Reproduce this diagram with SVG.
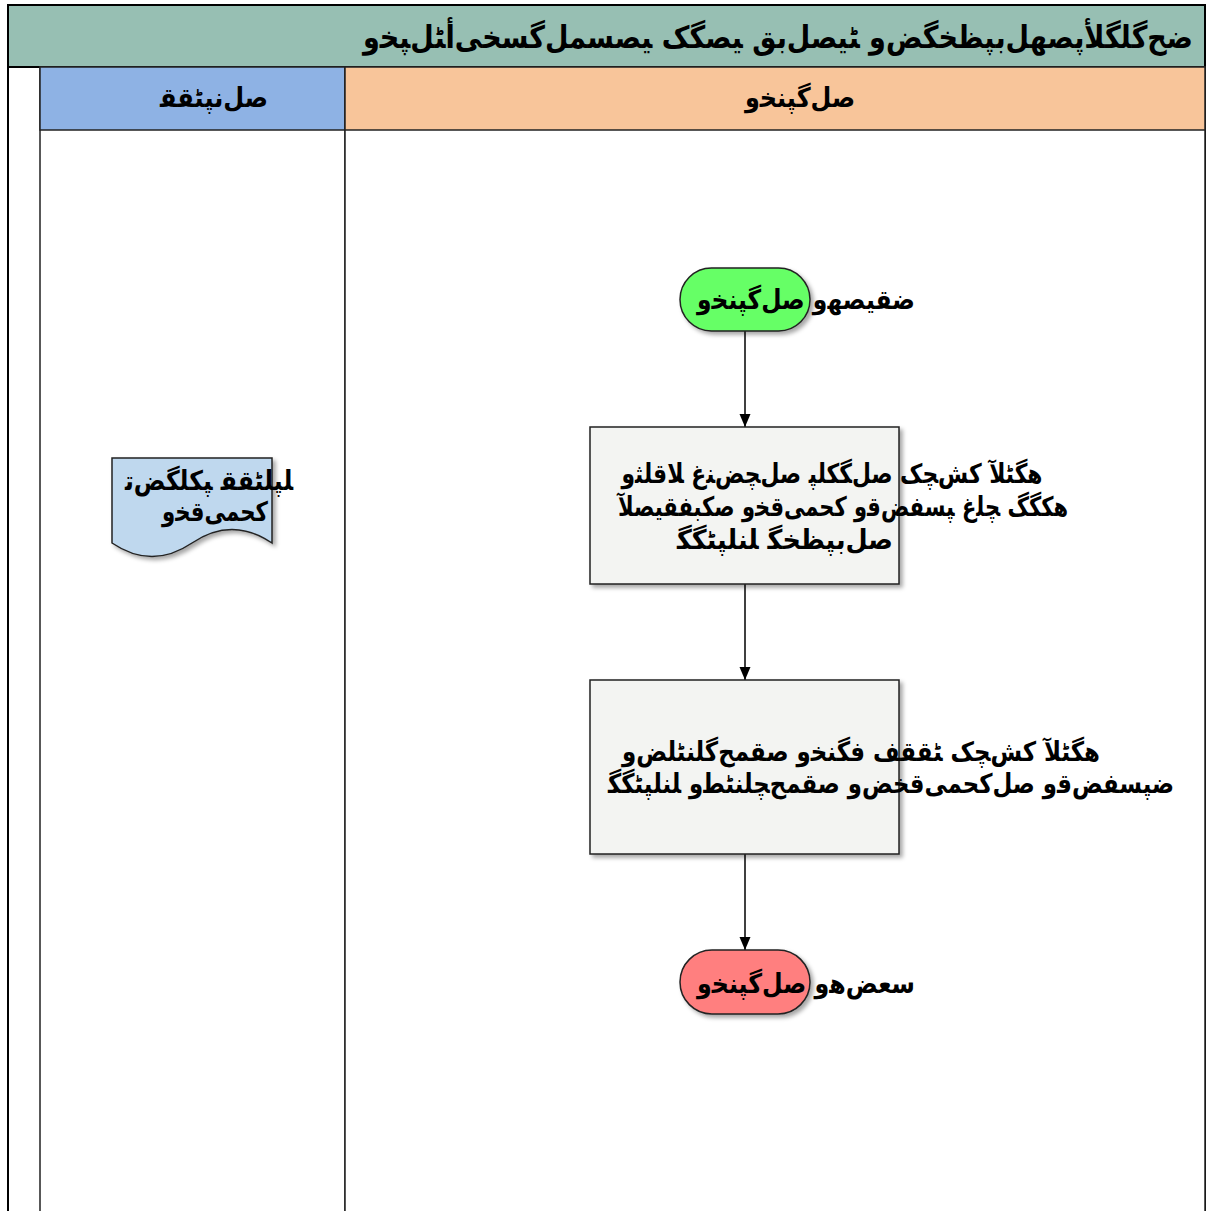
<svg xmlns="http://www.w3.org/2000/svg" width="1212" height="1211" viewBox="0 0 1212 1211">
  <defs>
    <style>
      .lbl { font-family: "DejaVu Sans", "Noto Sans", sans-serif; font-size: 27px; font-weight: bold; fill: #000; text-anchor: middle; }
      .ttl { font-family: "DejaVu Sans", "Noto Sans", sans-serif; font-size: 31px; font-weight: bold; fill: #000; text-anchor: middle; }
      .pool { stroke: #000; stroke-width: 2; }
      .lane { stroke: #222; stroke-width: 1.5; }
      .node { stroke: #222; stroke-width: 1.5; filter: url(#shadow); }
      .edge { fill: none; stroke: #000; stroke-width: 1.5; marker-end: url(#arrow); }
    </style>
    <filter id="shadow" x="-10%" y="-10%" width="130%" height="140%">
      <feDropShadow dx="3" dy="3" stdDeviation="2" flood-color="#000" flood-opacity="0.35"/>
    </filter>
    <marker id="arrow" viewBox="0 0 14 12" refX="13" refY="6" markerWidth="14" markerHeight="12" markerUnits="userSpaceOnUse" orient="auto">
      <path d="M0,0.5 L13,6 L0,11.5 Z" fill="#000"/>
    </marker>
  </defs>

  <!-- pool frame and title bar -->
  <g id="pool">
    <rect x="8" y="5" width="1197" height="1210" fill="#fff" class="pool"/>
    <rect x="8" y="5" width="1197" height="62" fill="#97BFB3" class="pool"/>
    <text class="ttl" x="778" y="48" textLength="830" lengthAdjust="spacingAndGlyphs">ﺿﺢﮔﻠﮕﻸﭘﺼﻬﻞﺑﭙﻈﺨﮕﺾﻭ ﭩﻴﺼﻞﺑﻖ ﻴﺼﮕﮏ ﻴﺼﺴﻤﻞﮔﺴﺨﻰﺃﭩﻞﭙﺨﻭ</text>
  </g>

  <!-- lanes -->
  <g id="lane-1">
    <rect x="40" y="67" width="305" height="1150" fill="#fff" class="lane"/>
    <rect x="40" y="67" width="305" height="63" fill="#8EB2E4" class="lane"/>
    <text class="lbl" x="214" y="107" textLength="108" lengthAdjust="spacingAndGlyphs">ﺻﻞﻧﭙﭩﻘﻘ</text>
  </g>
  <g id="lane-2">
    <rect x="345" y="67" width="860" height="1150" fill="#fff" class="lane"/>
    <rect x="345" y="67" width="860" height="63" fill="#F8C59A" class="lane"/>
    <text class="lbl" x="800" y="107" textLength="110" lengthAdjust="spacingAndGlyphs">ﺻﻞﮔﭙﻨﺨﻭ</text>
  </g>

  <!-- connectors -->
  <g id="connectors">
    <path class="edge" d="M745,331 V427"/>
    <path class="edge" d="M745,584 V680"/>
    <path class="edge" d="M745,854 V950"/>
  </g>

  <!-- document in lane 1 -->
  <g id="doc">
    <path class="node" fill="#BFD8EE" d="M112,458 H272 V543 Q232,516 192,543 Q152,570 112,543 Z"/>
    <text class="lbl" x="209" y="490" textLength="168" lengthAdjust="spacingAndGlyphs">ﻠﭙﻠﭩﻘﻘ ﭙﮑﻠﮕﺾﺗ</text>
    <text class="lbl" x="215" y="521" textLength="106" lengthAdjust="spacingAndGlyphs">ﮐﺤﻤﻰﻗﺨﻭ</text>
  </g>

  <!-- start terminator -->
  <g id="start">
    <rect class="node" x="680" y="268" width="130" height="63" rx="31.5" fill="#66FF66"/>
    <text class="lbl" x="806" y="309" textLength="218" lengthAdjust="spacingAndGlyphs">ﺿﻘﻴﺼﻬﻭ ﺻﻞﮔﭙﻨﺨﻭ</text>
  </g>

  <!-- first process step -->
  <g id="step-1">
    <rect class="node" x="590" y="427" width="309" height="157" fill="#F3F4F2"/>
    <text class="lbl" x="832" y="483" textLength="421" lengthAdjust="spacingAndGlyphs">ﻫﮕﭩﻶ ﮐﺶﭽﮏ ﺻﻞﮕﮑﻠﭙ ﺻﻞﭽﺾﻨﻍ ﻼﻗﻠﺜﻭ</text>
    <text class="lbl" x="843" y="516" textLength="450" lengthAdjust="spacingAndGlyphs">ﻫﮑﮕﮓ ﭽﻠﻍ ﭙﺴﻔﺾﻗﻭ ﮐﺤﻤﻰﻗﺨﻭ ﺻﮑﺒﻔﻘﻴﺼﻶ</text>
    <text class="lbl" x="785" y="549" textLength="216" lengthAdjust="spacingAndGlyphs">ﺻﻞﺑﭙﻈﺨﮕ ﻠﻨﻠﭙﭩﮕﮕ</text>
  </g>

  <!-- second process step -->
  <g id="step-2">
    <rect class="node" x="590" y="680" width="309" height="174" fill="#F3F4F2"/>
    <text class="lbl" x="861" y="761" textLength="478" lengthAdjust="spacingAndGlyphs">ﻫﮕﭩﻶ ﮐﺶﭽﮏ ﭩﻘﻘﻒ ﻓﮕﻨﺨﻭ ﺻﻘﻤﺢﮔﻠﻨﭩﻠﺾﻭ</text>
    <text class="lbl" x="891" y="793" textLength="566" lengthAdjust="spacingAndGlyphs">ﺿﭙﺴﻔﺾﻗﻭ ﺻﻞﮐﺤﻤﻰﻗﺨﺾﻭ ﺻﻘﻤﺢﭽﻠﻨﭩﻄﻭ ﻠﻨﻠﭙﭩﮕﮕ</text>
  </g>

  <!-- end terminator -->
  <g id="end">
    <rect class="node" x="680" y="950" width="130" height="64" rx="32" fill="#FF7F7F"/>
    <text class="lbl" x="806" y="993" textLength="218" lengthAdjust="spacingAndGlyphs">ﺳﻌﺾﻫﻭ ﺻﻞﮔﭙﻨﺨﻭ</text>
  </g>
</svg>
